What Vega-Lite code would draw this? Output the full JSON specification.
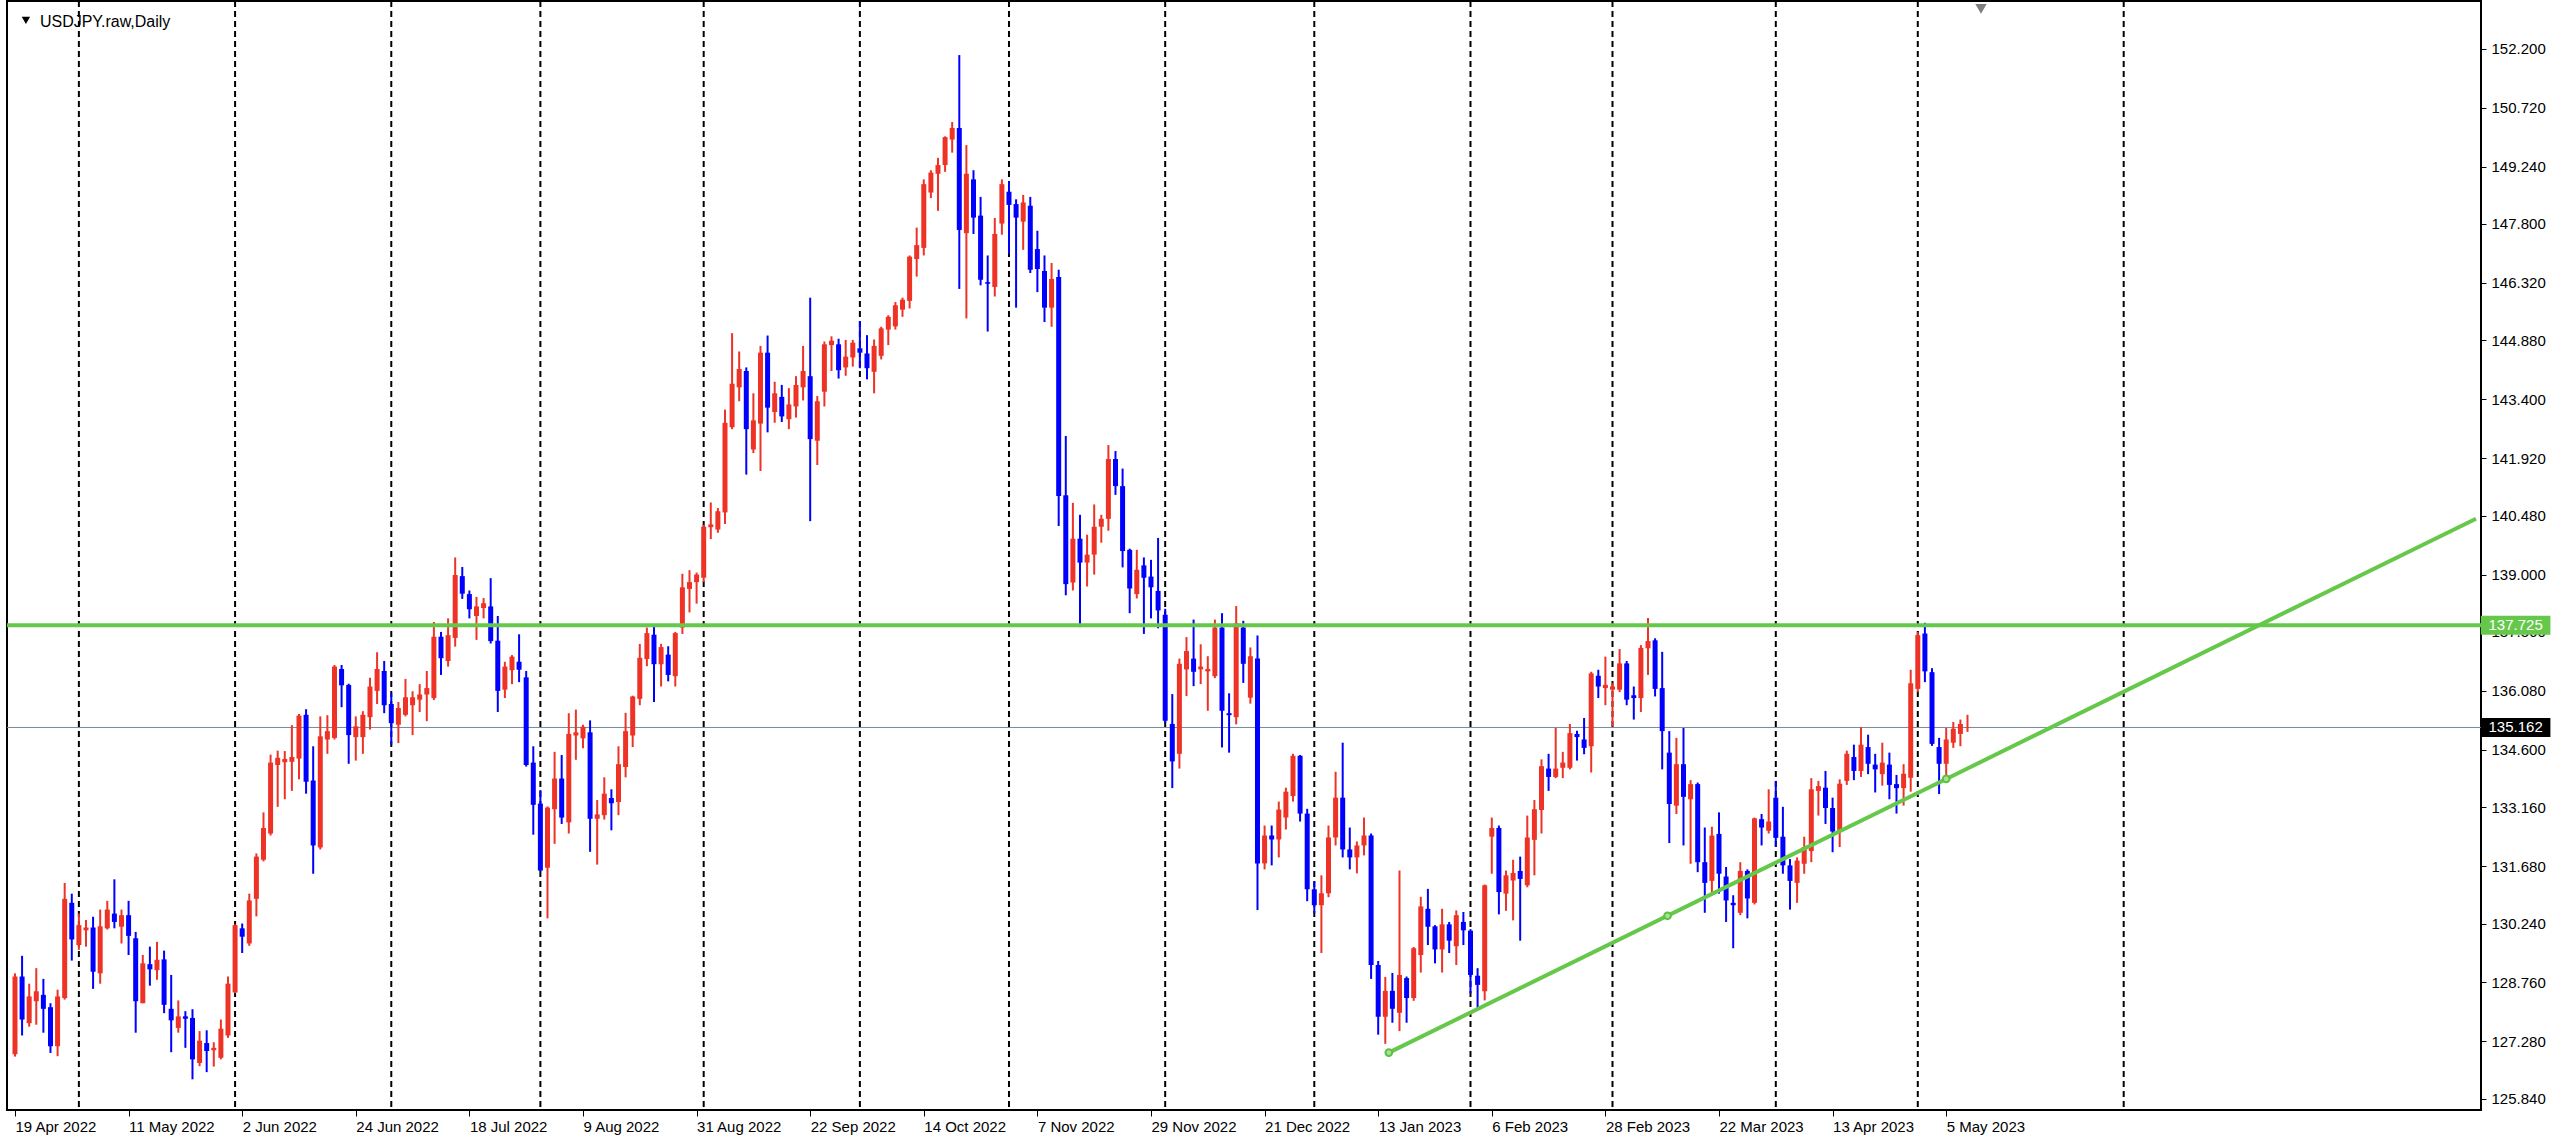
{
"$schema":"https://vega.github.io/schema/vega-lite/v6.json",
"width":2474,"height":1109,"autosize":"none",
"padding":{"left":7,"top":1,"right":79,"bottom":38},
"background":"white",
"config":{"view":{"stroke":"black","strokeWidth":2},"axis":{"grid":false,"domain":false,"tickColor":"black","labelColor":"black","labelFont":"Liberation Sans","labelFontSize":15}},
"datasets":{"one":[{}],"candles":[
{"i":0,"d":"2022-04-19","o":126.96,"h":128.99,"l":126.9,"c":128.91},
{"i":1,"d":"2022-04-20","o":128.91,"h":129.43,"l":127.43,"c":127.83},
{"i":2,"d":"2022-04-21","o":127.74,"h":128.73,"l":127.65,"c":128.41},
{"i":3,"d":"2022-04-22","o":128.29,"h":129.12,"l":127.7,"c":128.54},
{"i":4,"d":"2022-04-25","o":128.45,"h":128.85,"l":127.5,"c":128.1},
{"i":5,"d":"2022-04-26","o":128.14,"h":128.24,"l":126.99,"c":127.16},
{"i":6,"d":"2022-04-27","o":127.16,"h":128.58,"l":126.91,"c":128.41},
{"i":7,"d":"2022-04-28","o":128.37,"h":131.26,"l":128.33,"c":130.86},
{"i":8,"d":"2022-04-29","o":130.76,"h":130.99,"l":129.31,"c":129.84},
{"i":9,"d":"2022-05-02","o":129.7,"h":130.49,"l":129.58,"c":130.2},
{"i":10,"d":"2022-05-03","o":130.07,"h":130.33,"l":129.66,"c":130.14},
{"i":11,"d":"2022-05-04","o":130.14,"h":130.41,"l":128.6,"c":129.03},
{"i":12,"d":"2022-05-05","o":128.99,"h":130.59,"l":128.73,"c":130.17},
{"i":13,"d":"2022-05-06","o":130.12,"h":130.81,"l":130.09,"c":130.59},
{"i":14,"d":"2022-05-09","o":130.49,"h":131.35,"l":130.12,"c":130.28},
{"i":15,"d":"2022-05-10","o":130.16,"h":130.59,"l":129.74,"c":130.45},
{"i":16,"d":"2022-05-11","o":130.45,"h":130.81,"l":129.45,"c":129.93},
{"i":17,"d":"2022-05-12","o":129.87,"h":130.03,"l":127.5,"c":128.29},
{"i":18,"d":"2022-05-13","o":128.24,"h":129.45,"l":128.24,"c":129.24},
{"i":19,"d":"2022-05-16","o":129.22,"h":129.66,"l":128.68,"c":129.09},
{"i":20,"d":"2022-05-17","o":129.07,"h":129.78,"l":128.83,"c":129.33},
{"i":21,"d":"2022-05-18","o":129.34,"h":129.56,"l":127.99,"c":128.2},
{"i":22,"d":"2022-05-19","o":128.1,"h":128.95,"l":127.01,"c":127.81},
{"i":23,"d":"2022-05-20","o":127.62,"h":128.31,"l":127.5,"c":127.91},
{"i":24,"d":"2022-05-23","o":127.91,"h":128.04,"l":127.12,"c":127.85},
{"i":25,"d":"2022-05-24","o":127.87,"h":128.09,"l":126.33,"c":126.83},
{"i":26,"d":"2022-05-25","o":126.74,"h":127.54,"l":126.66,"c":127.3},
{"i":27,"d":"2022-05-26","o":127.24,"h":127.56,"l":126.51,"c":127.04},
{"i":28,"d":"2022-05-27","o":127.06,"h":127.26,"l":126.65,"c":127.12},
{"i":29,"d":"2022-05-30","o":126.87,"h":127.83,"l":126.83,"c":127.6},
{"i":30,"d":"2022-05-31","o":127.43,"h":128.91,"l":127.37,"c":128.73},
{"i":31,"d":"2022-06-01","o":128.51,"h":130.22,"l":128.49,"c":130.2},
{"i":32,"d":"2022-06-02","o":130.12,"h":130.24,"l":129.5,"c":129.91},
{"i":33,"d":"2022-06-03","o":129.74,"h":130.99,"l":129.68,"c":130.82},
{"i":34,"d":"2022-06-06","o":130.86,"h":132.0,"l":130.42,"c":131.92},
{"i":35,"d":"2022-06-07","o":131.84,"h":133.03,"l":131.8,"c":132.64},
{"i":36,"d":"2022-06-08","o":132.5,"h":134.48,"l":132.45,"c":134.28},
{"i":37,"d":"2022-06-09","o":134.22,"h":134.58,"l":133.17,"c":134.4},
{"i":38,"d":"2022-06-10","o":134.29,"h":134.57,"l":133.36,"c":134.37},
{"i":39,"d":"2022-06-13","o":134.3,"h":135.22,"l":133.57,"c":134.42},
{"i":40,"d":"2022-06-14","o":134.38,"h":135.5,"l":133.86,"c":135.46},
{"i":41,"d":"2022-06-15","o":135.48,"h":135.62,"l":133.5,"c":133.8},
{"i":42,"d":"2022-06-16","o":133.83,"h":134.69,"l":131.49,"c":132.2},
{"i":43,"d":"2022-06-17","o":132.15,"h":135.44,"l":132.1,"c":134.94},
{"i":44,"d":"2022-06-20","o":134.86,"h":135.47,"l":134.5,"c":135.07},
{"i":45,"d":"2022-06-21","o":134.9,"h":136.73,"l":134.86,"c":136.69},
{"i":46,"d":"2022-06-22","o":136.63,"h":136.73,"l":135.67,"c":136.22},
{"i":47,"d":"2022-06-23","o":136.23,"h":136.26,"l":134.25,"c":134.97},
{"i":48,"d":"2022-06-24","o":134.92,"h":135.44,"l":134.33,"c":135.19},
{"i":49,"d":"2022-06-27","o":134.92,"h":135.57,"l":134.5,"c":135.48},
{"i":50,"d":"2022-06-28","o":135.42,"h":136.41,"l":135.11,"c":136.19},
{"i":51,"d":"2022-06-29","o":136.08,"h":137.05,"l":135.75,"c":136.63},
{"i":52,"d":"2022-06-30","o":136.58,"h":136.83,"l":135.52,"c":135.72},
{"i":53,"d":"2022-07-01","o":135.75,"h":136.02,"l":134.73,"c":135.27},
{"i":54,"d":"2022-07-04","o":135.23,"h":135.8,"l":134.77,"c":135.65},
{"i":55,"d":"2022-07-05","o":135.48,"h":136.38,"l":135.44,"c":135.92},
{"i":56,"d":"2022-07-06","o":135.72,"h":136.07,"l":134.97,"c":135.92},
{"i":57,"d":"2022-07-07","o":135.86,"h":136.25,"l":135.55,"c":135.99},
{"i":58,"d":"2022-07-08","o":135.99,"h":136.58,"l":135.32,"c":136.15},
{"i":59,"d":"2022-07-11","o":135.9,"h":137.81,"l":135.85,"c":137.44},
{"i":60,"d":"2022-07-12","o":137.44,"h":137.56,"l":136.48,"c":136.9},
{"i":61,"d":"2022-07-13","o":136.83,"h":137.9,"l":136.69,"c":137.48},
{"i":62,"d":"2022-07-14","o":137.41,"h":139.43,"l":137.19,"c":138.99},
{"i":63,"d":"2022-07-15","o":138.96,"h":139.19,"l":138.39,"c":138.52},
{"i":64,"d":"2022-07-18","o":138.51,"h":138.6,"l":137.9,"c":138.13},
{"i":65,"d":"2022-07-19","o":137.96,"h":138.44,"l":137.36,"c":138.2},
{"i":66,"d":"2022-07-20","o":138.16,"h":138.41,"l":137.9,"c":138.28},
{"i":67,"d":"2022-07-21","o":138.2,"h":138.91,"l":137.27,"c":137.33},
{"i":68,"d":"2022-07-22","o":137.34,"h":137.96,"l":135.55,"c":136.08},
{"i":69,"d":"2022-07-25","o":136.11,"h":136.81,"l":135.9,"c":136.69},
{"i":70,"d":"2022-07-26","o":136.6,"h":136.98,"l":136.25,"c":136.94},
{"i":71,"d":"2022-07-27","o":136.81,"h":137.5,"l":136.3,"c":136.61},
{"i":72,"d":"2022-07-28","o":136.42,"h":136.58,"l":134.18,"c":134.22},
{"i":73,"d":"2022-07-29","o":134.28,"h":134.69,"l":132.47,"c":133.22},
{"i":74,"d":"2022-08-01","o":133.25,"h":133.59,"l":131.55,"c":131.57},
{"i":75,"d":"2022-08-02","o":131.64,"h":133.18,"l":130.37,"c":133.15},
{"i":76,"d":"2022-08-03","o":133.11,"h":134.55,"l":132.24,"c":133.88},
{"i":77,"d":"2022-08-04","o":133.88,"h":134.47,"l":132.74,"c":132.9},
{"i":78,"d":"2022-08-05","o":132.78,"h":135.52,"l":132.5,"c":135.0},
{"i":79,"d":"2022-08-08","o":134.96,"h":135.61,"l":134.35,"c":135.04},
{"i":80,"d":"2022-08-09","o":134.89,"h":135.23,"l":134.64,"c":135.18},
{"i":81,"d":"2022-08-10","o":135.04,"h":135.34,"l":132.04,"c":132.87},
{"i":82,"d":"2022-08-11","o":132.87,"h":133.34,"l":131.72,"c":132.98},
{"i":83,"d":"2022-08-12","o":132.96,"h":133.91,"l":132.85,"c":133.5},
{"i":84,"d":"2022-08-15","o":133.39,"h":133.61,"l":132.58,"c":133.26},
{"i":85,"d":"2022-08-16","o":133.29,"h":134.69,"l":132.96,"c":134.24},
{"i":86,"d":"2022-08-17","o":134.17,"h":135.53,"l":133.91,"c":135.07},
{"i":87,"d":"2022-08-18","o":134.96,"h":135.96,"l":134.67,"c":135.94},
{"i":88,"d":"2022-08-19","o":135.88,"h":137.26,"l":135.72,"c":136.91},
{"i":89,"d":"2022-08-22","o":136.88,"h":137.67,"l":136.7,"c":137.53},
{"i":90,"d":"2022-08-23","o":137.49,"h":137.75,"l":135.8,"c":136.75},
{"i":91,"d":"2022-08-24","o":136.75,"h":137.26,"l":136.19,"c":137.18},
{"i":92,"d":"2022-08-25","o":136.99,"h":137.2,"l":136.32,"c":136.48},
{"i":93,"d":"2022-08-26","o":136.45,"h":137.56,"l":136.19,"c":137.53},
{"i":94,"d":"2022-08-29","o":137.67,"h":139.02,"l":137.51,"c":138.68},
{"i":95,"d":"2022-08-30","o":138.64,"h":139.11,"l":138.05,"c":138.81},
{"i":96,"d":"2022-08-31","o":138.81,"h":139.05,"l":138.27,"c":139.0},
{"i":97,"d":"2022-09-01","o":138.92,"h":140.25,"l":138.81,"c":140.2},
{"i":98,"d":"2022-09-02","o":140.19,"h":140.81,"l":139.89,"c":140.26},
{"i":99,"d":"2022-09-05","o":140.13,"h":140.67,"l":140.05,"c":140.59},
{"i":100,"d":"2022-09-06","o":140.56,"h":143.14,"l":140.27,"c":142.81},
{"i":101,"d":"2022-09-07","o":142.7,"h":145.06,"l":142.65,"c":143.79},
{"i":102,"d":"2022-09-08","o":143.7,"h":144.6,"l":143.35,"c":144.16},
{"i":103,"d":"2022-09-09","o":144.11,"h":144.2,"l":141.51,"c":142.65},
{"i":104,"d":"2022-09-12","o":142.14,"h":143.55,"l":142.05,"c":142.87},
{"i":105,"d":"2022-09-13","o":142.79,"h":144.74,"l":141.6,"c":144.57},
{"i":106,"d":"2022-09-14","o":144.57,"h":145.0,"l":142.57,"c":143.19},
{"i":107,"d":"2022-09-15","o":143.08,"h":143.84,"l":142.81,"c":143.55},
{"i":108,"d":"2022-09-16","o":143.46,"h":143.76,"l":142.83,"c":142.97},
{"i":109,"d":"2022-09-19","o":142.9,"h":143.68,"l":142.65,"c":143.27},
{"i":110,"d":"2022-09-20","o":143.22,"h":143.98,"l":142.94,"c":143.76},
{"i":111,"d":"2022-09-21","o":143.7,"h":144.74,"l":143.37,"c":144.11},
{"i":112,"d":"2022-09-22","o":143.98,"h":145.95,"l":140.34,"c":142.4},
{"i":113,"d":"2022-09-23","o":142.36,"h":143.48,"l":141.75,"c":143.35},
{"i":114,"d":"2022-09-26","o":143.59,"h":144.85,"l":143.22,"c":144.78},
{"i":115,"d":"2022-09-27","o":144.76,"h":144.98,"l":144.11,"c":144.87},
{"i":116,"d":"2022-09-28","o":144.78,"h":144.92,"l":143.92,"c":144.13},
{"i":117,"d":"2022-09-29","o":144.2,"h":144.89,"l":143.99,"c":144.47},
{"i":118,"d":"2022-09-30","o":144.45,"h":144.89,"l":144.22,"c":144.82},
{"i":119,"d":"2022-10-03","o":144.68,"h":145.36,"l":144.18,"c":144.57},
{"i":120,"d":"2022-10-04","o":144.55,"h":145.01,"l":143.9,"c":144.18},
{"i":121,"d":"2022-10-05","o":144.09,"h":144.9,"l":143.55,"c":144.74},
{"i":122,"d":"2022-10-06","o":144.49,"h":145.22,"l":144.4,"c":145.18},
{"i":123,"d":"2022-10-07","o":145.15,"h":145.51,"l":144.76,"c":145.47},
{"i":124,"d":"2022-10-10","o":145.23,"h":145.84,"l":145.15,"c":145.76},
{"i":125,"d":"2022-10-11","o":145.65,"h":145.95,"l":145.47,"c":145.9},
{"i":126,"d":"2022-10-12","o":145.87,"h":147.01,"l":145.68,"c":146.98},
{"i":127,"d":"2022-10-13","o":146.92,"h":147.71,"l":146.48,"c":147.27},
{"i":128,"d":"2022-10-14","o":147.2,"h":148.92,"l":147.01,"c":148.8},
{"i":129,"d":"2022-10-17","o":148.59,"h":149.15,"l":148.45,"c":149.09},
{"i":130,"d":"2022-10-18","o":149.06,"h":149.46,"l":148.13,"c":149.28},
{"i":131,"d":"2022-10-19","o":149.28,"h":150.0,"l":149.11,"c":149.98},
{"i":132,"d":"2022-10-20","o":149.92,"h":150.36,"l":149.59,"c":150.21},
{"i":133,"d":"2022-10-21","o":150.21,"h":152.04,"l":146.17,"c":147.65},
{"i":134,"d":"2022-10-24","o":147.57,"h":149.78,"l":145.43,"c":149.06},
{"i":135,"d":"2022-10-25","o":148.92,"h":149.15,"l":147.55,"c":147.96},
{"i":136,"d":"2022-10-26","o":148.01,"h":148.48,"l":146.26,"c":146.4},
{"i":137,"d":"2022-10-27","o":146.34,"h":147.01,"l":145.1,"c":146.3},
{"i":138,"d":"2022-10-28","o":146.22,"h":147.95,"l":145.98,"c":147.55},
{"i":139,"d":"2022-10-31","o":147.81,"h":148.92,"l":147.53,"c":148.8},
{"i":140,"d":"2022-11-01","o":148.61,"h":148.88,"l":147.05,"c":148.28},
{"i":141,"d":"2022-11-02","o":148.3,"h":148.42,"l":145.7,"c":147.96},
{"i":142,"d":"2022-11-03","o":147.86,"h":148.53,"l":147.15,"c":148.34},
{"i":143,"d":"2022-11-04","o":148.26,"h":148.48,"l":146.57,"c":146.65},
{"i":144,"d":"2022-11-07","o":147.17,"h":147.63,"l":146.09,"c":146.67},
{"i":145,"d":"2022-11-08","o":146.62,"h":147.01,"l":145.34,"c":145.7},
{"i":146,"d":"2022-11-09","o":145.7,"h":146.82,"l":145.22,"c":146.42},
{"i":147,"d":"2022-11-10","o":146.47,"h":146.65,"l":140.22,"c":140.97},
{"i":148,"d":"2022-11-11","o":140.99,"h":142.48,"l":138.48,"c":138.76},
{"i":149,"d":"2022-11-14","o":138.8,"h":140.8,"l":138.6,"c":139.9},
{"i":150,"d":"2022-11-15","o":139.9,"h":140.5,"l":137.68,"c":139.3},
{"i":151,"d":"2022-11-16","o":139.3,"h":140.0,"l":138.7,"c":139.5},
{"i":152,"d":"2022-11-17","o":139.5,"h":140.76,"l":139.0,"c":140.2},
{"i":153,"d":"2022-11-18","o":140.2,"h":140.5,"l":139.8,"c":140.4},
{"i":154,"d":"2022-11-21","o":140.4,"h":142.25,"l":140.1,"c":141.9},
{"i":155,"d":"2022-11-22","o":141.9,"h":142.1,"l":141.0,"c":141.22},
{"i":156,"d":"2022-11-23","o":141.22,"h":141.66,"l":139.18,"c":139.59},
{"i":157,"d":"2022-11-24","o":139.62,"h":139.65,"l":138.03,"c":138.65},
{"i":158,"d":"2022-11-25","o":138.51,"h":139.62,"l":138.4,"c":139.12},
{"i":159,"d":"2022-11-28","o":139.23,"h":139.43,"l":137.51,"c":138.92},
{"i":160,"d":"2022-11-29","o":138.95,"h":139.37,"l":137.9,"c":138.68},
{"i":161,"d":"2022-11-30","o":138.59,"h":139.92,"l":137.65,"c":138.1},
{"i":162,"d":"2022-12-01","o":137.99,"h":138.14,"l":135.28,"c":135.33},
{"i":163,"d":"2022-12-02","o":135.25,"h":136.0,"l":133.64,"c":134.31},
{"i":164,"d":"2022-12-05","o":134.5,"h":136.89,"l":134.13,"c":136.76},
{"i":165,"d":"2022-12-06","o":136.62,"h":137.43,"l":135.95,"c":137.08},
{"i":166,"d":"2022-12-07","o":136.89,"h":137.87,"l":136.2,"c":136.56},
{"i":167,"d":"2022-12-08","o":136.62,"h":137.25,"l":136.25,"c":136.69},
{"i":168,"d":"2022-12-09","o":136.57,"h":136.95,"l":135.58,"c":136.63},
{"i":169,"d":"2022-12-12","o":136.45,"h":137.87,"l":136.4,"c":137.67},
{"i":170,"d":"2022-12-13","o":137.67,"h":138.03,"l":134.66,"c":135.58},
{"i":171,"d":"2022-12-14","o":135.52,"h":136.02,"l":134.53,"c":135.47},
{"i":172,"d":"2022-12-15","o":135.42,"h":138.21,"l":135.24,"c":137.78},
{"i":173,"d":"2022-12-16","o":137.67,"h":137.84,"l":136.28,"c":136.76},
{"i":174,"d":"2022-12-19","o":135.91,"h":137.17,"l":135.76,"c":136.95},
{"i":175,"d":"2022-12-20","o":136.89,"h":137.47,"l":130.58,"c":131.75},
{"i":176,"d":"2022-12-21","o":131.75,"h":132.7,"l":131.6,"c":132.45},
{"i":177,"d":"2022-12-22","o":132.45,"h":132.7,"l":131.7,"c":132.35},
{"i":178,"d":"2022-12-23","o":132.35,"h":133.3,"l":131.9,"c":133.1},
{"i":179,"d":"2022-12-27","o":132.9,"h":133.65,"l":132.6,"c":133.55},
{"i":180,"d":"2022-12-28","o":133.44,"h":134.5,"l":133.3,"c":134.45},
{"i":181,"d":"2022-12-29","o":134.45,"h":134.47,"l":132.8,"c":133.0},
{"i":182,"d":"2022-12-30","o":133.0,"h":133.12,"l":130.8,"c":131.1},
{"i":183,"d":"2023-01-02","o":131.1,"h":131.3,"l":130.5,"c":130.7},
{"i":184,"d":"2023-01-03","o":130.7,"h":131.45,"l":129.5,"c":131.0},
{"i":185,"d":"2023-01-04","o":131.0,"h":132.7,"l":130.9,"c":132.4},
{"i":186,"d":"2023-01-05","o":132.4,"h":134.05,"l":132.2,"c":133.4},
{"i":187,"d":"2023-01-06","o":133.4,"h":134.78,"l":131.9,"c":132.1},
{"i":188,"d":"2023-01-09","o":132.1,"h":132.65,"l":131.6,"c":131.9},
{"i":189,"d":"2023-01-10","o":131.9,"h":132.3,"l":131.5,"c":132.2},
{"i":190,"d":"2023-01-11","o":132.2,"h":132.9,"l":131.95,"c":132.45},
{"i":191,"d":"2023-01-12","o":132.45,"h":132.5,"l":128.85,"c":129.2},
{"i":192,"d":"2023-01-13","o":129.2,"h":129.3,"l":127.45,"c":127.9},
{"i":193,"d":"2023-01-16","o":127.9,"h":128.9,"l":127.22,"c":128.55},
{"i":194,"d":"2023-01-17","o":128.55,"h":129.0,"l":127.75,"c":128.1},
{"i":195,"d":"2023-01-18","o":128.0,"h":131.57,"l":127.54,"c":128.95},
{"i":196,"d":"2023-01-19","o":128.87,"h":128.91,"l":127.75,"c":128.37},
{"i":197,"d":"2023-01-20","o":128.37,"h":129.65,"l":128.3,"c":129.62},
{"i":198,"d":"2023-01-23","o":129.45,"h":130.91,"l":129.01,"c":130.67},
{"i":199,"d":"2023-01-24","o":130.61,"h":131.11,"l":129.7,"c":130.16},
{"i":200,"d":"2023-01-25","o":130.17,"h":130.2,"l":129.24,"c":129.59},
{"i":201,"d":"2023-01-26","o":129.59,"h":130.61,"l":129.01,"c":130.22},
{"i":202,"d":"2023-01-27","o":130.22,"h":130.28,"l":129.5,"c":129.81},
{"i":203,"d":"2023-01-30","o":129.67,"h":130.57,"l":129.2,"c":130.45},
{"i":204,"d":"2023-01-31","o":130.28,"h":130.53,"l":129.7,"c":130.07},
{"i":205,"d":"2023-02-01","o":130.06,"h":130.1,"l":128.49,"c":128.95},
{"i":206,"d":"2023-02-02","o":128.93,"h":129.12,"l":128.08,"c":128.7},
{"i":207,"d":"2023-02-03","o":128.54,"h":131.22,"l":128.31,"c":131.2},
{"i":208,"d":"2023-02-06","o":132.42,"h":132.9,"l":131.49,"c":132.64},
{"i":209,"d":"2023-02-07","o":132.64,"h":132.7,"l":130.47,"c":131.03},
{"i":210,"d":"2023-02-08","o":130.99,"h":131.57,"l":130.56,"c":131.45},
{"i":211,"d":"2023-02-09","o":131.32,"h":131.84,"l":130.32,"c":131.51},
{"i":212,"d":"2023-02-10","o":131.56,"h":131.92,"l":129.81,"c":131.36},
{"i":213,"d":"2023-02-13","o":131.2,"h":132.95,"l":131.15,"c":132.4},
{"i":214,"d":"2023-02-14","o":132.34,"h":133.34,"l":131.45,"c":133.11},
{"i":215,"d":"2023-02-15","o":133.09,"h":134.36,"l":132.5,"c":134.19},
{"i":216,"d":"2023-02-16","o":134.13,"h":134.5,"l":133.57,"c":133.92},
{"i":217,"d":"2023-02-17","o":133.92,"h":135.15,"l":133.89,"c":134.13},
{"i":218,"d":"2023-02-20","o":134.15,"h":134.55,"l":133.89,"c":134.28},
{"i":219,"d":"2023-02-21","o":134.15,"h":135.25,"l":134.11,"c":135.02},
{"i":220,"d":"2023-02-22","o":135.0,"h":135.08,"l":134.33,"c":134.92},
{"i":221,"d":"2023-02-23","o":134.86,"h":135.4,"l":134.49,"c":134.65},
{"i":222,"d":"2023-02-24","o":134.69,"h":136.56,"l":134.03,"c":136.52},
{"i":223,"d":"2023-02-27","o":136.46,"h":136.61,"l":135.9,"c":136.19},
{"i":224,"d":"2023-02-28","o":136.15,"h":136.94,"l":135.72,"c":136.23},
{"i":225,"d":"2023-03-01","o":136.11,"h":136.27,"l":135.19,"c":136.19},
{"i":226,"d":"2023-03-02","o":136.11,"h":137.13,"l":136.05,"c":136.77},
{"i":227,"d":"2023-03-03","o":136.77,"h":136.83,"l":135.72,"c":135.86},
{"i":228,"d":"2023-03-06","o":135.97,"h":136.19,"l":135.36,"c":135.9},
{"i":229,"d":"2023-03-07","o":135.9,"h":137.23,"l":135.55,"c":137.16},
{"i":230,"d":"2023-03-08","o":137.15,"h":137.91,"l":136.48,"c":137.33},
{"i":231,"d":"2023-03-09","o":137.35,"h":137.4,"l":135.94,"c":136.13},
{"i":232,"d":"2023-03-10","o":136.15,"h":137.06,"l":134.11,"c":135.07},
{"i":233,"d":"2023-03-13","o":134.53,"h":135.07,"l":132.26,"c":133.24},
{"i":234,"d":"2023-03-14","o":133.2,"h":134.9,"l":132.99,"c":134.24},
{"i":235,"d":"2023-03-15","o":134.24,"h":135.15,"l":132.2,"c":133.42},
{"i":236,"d":"2023-03-16","o":133.36,"h":133.84,"l":131.74,"c":133.74},
{"i":237,"d":"2023-03-17","o":133.74,"h":133.78,"l":131.53,"c":131.78},
{"i":238,"d":"2023-03-20","o":131.78,"h":132.65,"l":130.51,"c":131.26},
{"i":239,"d":"2023-03-21","o":131.31,"h":132.67,"l":131.01,"c":132.45},
{"i":240,"d":"2023-03-22","o":132.49,"h":133.03,"l":130.99,"c":131.49},
{"i":241,"d":"2023-03-23","o":131.42,"h":131.66,"l":130.28,"c":130.82},
{"i":242,"d":"2023-03-24","o":130.76,"h":130.95,"l":129.62,"c":130.7},
{"i":243,"d":"2023-03-27","o":130.51,"h":131.78,"l":130.45,"c":131.56},
{"i":244,"d":"2023-03-28","o":131.56,"h":131.6,"l":130.37,"c":130.87},
{"i":245,"d":"2023-03-29","o":130.76,"h":132.9,"l":130.72,"c":132.88},
{"i":246,"d":"2023-03-30","o":132.86,"h":132.99,"l":132.2,"c":132.65},
{"i":247,"d":"2023-03-31","o":132.57,"h":133.61,"l":132.5,"c":132.8},
{"i":248,"d":"2023-04-03","o":133.4,"h":133.82,"l":132.17,"c":132.39},
{"i":249,"d":"2023-04-04","o":132.42,"h":133.17,"l":131.49,"c":131.7},
{"i":250,"d":"2023-04-05","o":131.7,"h":131.86,"l":130.59,"c":131.31},
{"i":251,"d":"2023-04-06","o":131.26,"h":131.9,"l":130.76,"c":131.82},
{"i":252,"d":"2023-04-07","o":131.74,"h":132.42,"l":131.49,"c":132.16},
{"i":253,"d":"2023-04-10","o":132.06,"h":133.89,"l":131.78,"c":133.61},
{"i":254,"d":"2023-04-11","o":133.57,"h":133.82,"l":132.95,"c":133.69},
{"i":255,"d":"2023-04-12","o":133.65,"h":134.07,"l":132.74,"c":133.14},
{"i":256,"d":"2023-04-13","o":133.14,"h":133.4,"l":132.03,"c":132.55},
{"i":257,"d":"2023-04-14","o":132.57,"h":133.86,"l":132.16,"c":133.75},
{"i":258,"d":"2023-04-17","o":133.82,"h":134.58,"l":133.72,"c":134.5},
{"i":259,"d":"2023-04-18","o":134.42,"h":134.73,"l":133.84,"c":134.07},
{"i":260,"d":"2023-04-19","o":134.07,"h":135.17,"l":133.92,"c":134.73},
{"i":261,"d":"2023-04-20","o":134.67,"h":134.98,"l":133.99,"c":134.25},
{"i":262,"d":"2023-04-21","o":134.23,"h":134.5,"l":133.53,"c":134.11},
{"i":263,"d":"2023-04-24","o":133.99,"h":134.78,"l":133.7,"c":134.28},
{"i":264,"d":"2023-04-25","o":134.23,"h":134.53,"l":133.36,"c":133.72},
{"i":265,"d":"2023-04-26","o":133.74,"h":133.97,"l":133.0,"c":133.64},
{"i":266,"d":"2023-04-27","o":133.64,"h":134.24,"l":133.2,"c":134.0},
{"i":267,"d":"2023-04-28","o":133.9,"h":136.61,"l":133.55,"c":136.27},
{"i":268,"d":"2023-05-01","o":136.13,"h":137.56,"l":136.05,"c":137.48},
{"i":269,"d":"2023-05-02","o":137.52,"h":137.79,"l":136.3,"c":136.57},
{"i":270,"d":"2023-05-03","o":136.55,"h":136.65,"l":134.7,"c":134.75},
{"i":271,"d":"2023-05-04","o":134.67,"h":134.9,"l":133.49,"c":134.25},
{"i":272,"d":"2023-05-05","o":134.25,"h":135.15,"l":133.84,"c":134.86},
{"i":273,"d":"2023-05-08","o":134.78,"h":135.3,"l":134.65,"c":135.13},
{"i":274,"d":"2023-05-09","o":135.0,"h":135.36,"l":134.69,"c":135.25},
{"i":275,"d":"2023-05-10","o":135.15,"h":135.48,"l":135.05,"c":135.162}
]},
"layer":[
{"data":{"name":"candles"},
 "transform":[{"filter":{"field":"d","oneOf":["2022-05-02","2022-06-01","2022-07-01","2022-08-01","2022-09-01","2022-10-03","2022-11-01","2022-12-01","2023-01-02","2023-02-01","2023-03-01","2023-04-03","2023-05-01"]}}],
 "mark":{"type":"rule","color":"black","strokeWidth":2,"strokeDash":[6,4]},
 "encoding":{"x":{"field":"i","type":"quantitative","title":null,"scale":{"domain":[-0.42,346.62],"nice":false,"zero":false},
   "axis":{"orient":"bottom","title":null,"values":[0,16,32,48,64,80,96,112,128,144,160,176,192,208,224,240,256,272],
     "labelExpr":"['19 Apr 2022','11 May 2022','2 Jun 2022','24 Jun 2022','18 Jul 2022','9 Aug 2022','31 Aug 2022','22 Sep 2022','14 Oct 2022','7 Nov 2022','29 Nov 2022','21 Dec 2022','13 Jan 2023','6 Feb 2023','28 Feb 2023','22 Mar 2023','13 Apr 2023','5 May 2023'][round(datum.value/16)]",
     "labelAlign":"left","labelFlush":false,"labelOverlap":false,"labelBound":false,"tickSize":6,"labelPadding":3,"grid":false,"domain":false}}}},
{"data":{"name":"one"},
 "mark":{"type":"rule","color":"black","strokeWidth":2,"strokeDash":[6,4]},
 "encoding":{"x":{"datum":297,"type":"quantitative","title":null,"scale":{"domain":[-0.42,346.62],"nice":false,"zero":false}}}},
{"data":{"name":"one"},
 "mark":{"type":"rule","color":"#778899","strokeWidth":1},
 "encoding":{"y":{"datum":135.162,"type":"quantitative","title":null,"scale":{"domain":[125.685,153.272],"nice":false,"zero":false},
   "axis":{"orient":"right","title":null,"values":[125.84,127.28,128.76,130.24,131.68,133.16,134.6,136.08,137.56,139.0,140.48,141.92,143.4,144.88,146.32,147.8,149.24,150.72,152.2],"format":".3f","tickSize":5,"labelPadding":5,"labelFlush":false,"labelOverlap":false,"grid":false,"domain":false}}}},
{"data":{"name":"candles"},
 "mark":{"type":"rule","strokeWidth":2},
 "encoding":{"x":{"field":"i","type":"quantitative","title":null,"scale":{"domain":[-0.42,346.62],"nice":false,"zero":false}},
  "y":{"field":"l","type":"quantitative","title":null,"scale":{"domain":[125.685,153.272],"nice":false,"zero":false}},
  "y2":{"field":"h"},
  "color":{"condition":{"test":"datum.c >= datum.o","value":"#EE3326"},"value":"#0000FF"}}},
{"data":{"name":"candles"},
 "mark":{"type":"bar","size":5},
 "encoding":{"x":{"field":"i","type":"quantitative","title":null,"scale":{"domain":[-0.42,346.62],"nice":false,"zero":false}},
  "y":{"field":"o","type":"quantitative","title":null,"scale":{"domain":[125.685,153.272],"nice":false,"zero":false}},
  "y2":{"field":"c"},
  "color":{"condition":{"test":"datum.c >= datum.o","value":"#EE3326"},"value":"#0000FF"}}},
{"data":{"name":"one"},
 "mark":{"type":"rule","color":"#66C84A","strokeWidth":4},
 "encoding":{"y":{"datum":137.725,"type":"quantitative","title":null,"scale":{"domain":[125.685,153.272],"nice":false,"zero":false}}}},
{"data":{"values":[{"i":193.5,"p":127.0},{"i":272,"p":133.87},{"i":346.62,"p":140.4}]},
 "mark":{"type":"line","color":"#66C84A","strokeWidth":4},
 "encoding":{"x":{"field":"i","type":"quantitative","title":null,"scale":{"domain":[-0.42,346.62],"nice":false,"zero":false}},
  "y":{"field":"p","type":"quantitative","title":null,"scale":{"domain":[125.685,153.272],"nice":false,"zero":false}}}},
{"data":{"values":[{"i":193.5,"p":127.0},{"i":232.75,"p":130.435},{"i":272,"p":133.87}]},
 "mark":{"type":"point","shape":"circle","filled":true,"fill":"#A8E09A","stroke":"#5CC040","strokeWidth":2,"size":45,"opacity":1},
 "encoding":{"x":{"field":"i","type":"quantitative","title":null,"scale":{"domain":[-0.42,346.62],"nice":false,"zero":false}},
  "y":{"field":"p","type":"quantitative","title":null,"scale":{"domain":[125.685,153.272],"nice":false,"zero":false}}}},
{"data":{"name":"one"},
 "mark":{"type":"bar","orient":"horizontal","color":"#66C84A","size":19},
 "encoding":{"x":{"datum":347.3,"type":"quantitative","title":null,"scale":{"domain":[-0.42,346.62],"nice":false,"zero":false}},"x2":{"datum":357.1},
  "y":{"datum":137.725,"type":"quantitative","title":null,"scale":{"domain":[125.685,153.272],"nice":false,"zero":false}}}},
{"data":{"name":"one"},
 "mark":{"type":"text","text":"137.725","color":"white","font":"Liberation Sans","fontSize":15,"align":"center","baseline":"middle"},
 "encoding":{"x":{"datum":352.2,"type":"quantitative","title":null,"scale":{"domain":[-0.42,346.62],"nice":false,"zero":false}},
  "y":{"datum":137.725,"type":"quantitative","title":null,"scale":{"domain":[125.685,153.272],"nice":false,"zero":false}}}},
{"data":{"name":"one"},
 "mark":{"type":"bar","orient":"horizontal","color":"black","size":19},
 "encoding":{"x":{"datum":347.3,"type":"quantitative","title":null,"scale":{"domain":[-0.42,346.62],"nice":false,"zero":false}},"x2":{"datum":357.1},
  "y":{"datum":135.162,"type":"quantitative","title":null,"scale":{"domain":[125.685,153.272],"nice":false,"zero":false}}}},
{"data":{"name":"one"},
 "mark":{"type":"text","text":"135.162","color":"white","font":"Liberation Sans","fontSize":15,"align":"center","baseline":"middle"},
 "encoding":{"x":{"datum":352.2,"type":"quantitative","title":null,"scale":{"domain":[-0.42,346.62],"nice":false,"zero":false}},
  "y":{"datum":135.162,"type":"quantitative","title":null,"scale":{"domain":[125.685,153.272],"nice":false,"zero":false}}}},
{"data":{"name":"one"},
 "mark":{"type":"text","text":"USDJPY.raw,Daily","color":"black","font":"Liberation Sans","fontSize":16,"align":"left","baseline":"alphabetic"},
 "encoding":{"x":{"datum":3.51,"type":"quantitative","title":null,"scale":{"domain":[-0.42,346.62],"nice":false,"zero":false}},
  "y":{"datum":152.757,"type":"quantitative","title":null,"scale":{"domain":[125.685,153.272],"nice":false,"zero":false}}}},
{"data":{"name":"one"},
 "mark":{"type":"point","shape":"triangle-down","filled":true,"color":"black","size":70,"opacity":1},
 "encoding":{"x":{"datum":1.54,"type":"quantitative","title":null,"scale":{"domain":[-0.42,346.62],"nice":false,"zero":false}},
  "y":{"datum":152.91,"type":"quantitative","title":null,"scale":{"domain":[125.685,153.272],"nice":false,"zero":false}}}},
{"data":{"name":"one"},
 "mark":{"type":"point","shape":"triangle-down","filled":true,"color":"#7F7F7F","size":130,"opacity":1},
 "encoding":{"x":{"datum":276.9,"type":"quantitative","title":null,"scale":{"domain":[-0.42,346.62],"nice":false,"zero":false}},
  "y":{"datum":153.2,"type":"quantitative","title":null,"scale":{"domain":[125.685,153.272],"nice":false,"zero":false}}}}
]
}
